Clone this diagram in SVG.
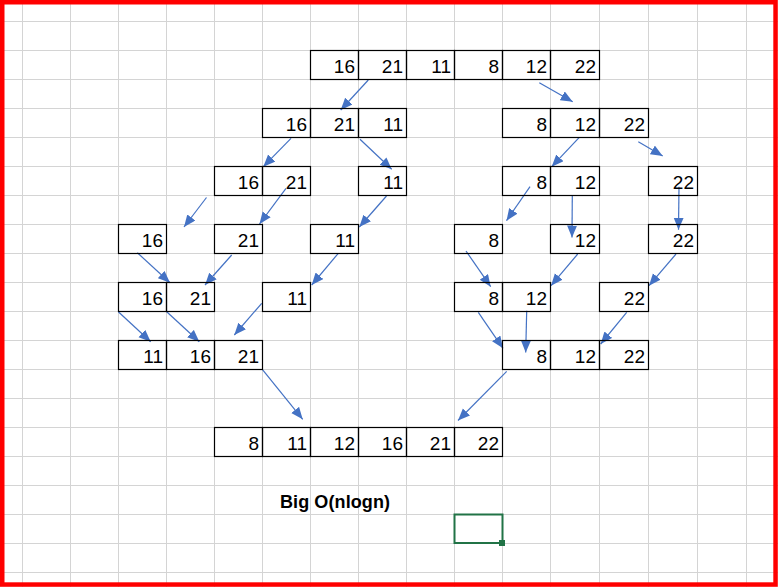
<svg xmlns="http://www.w3.org/2000/svg" width="778" height="587" viewBox="0 0 778 587">
<style>
.g{stroke:#d4d4d4;stroke-width:1}
.c{fill:none;stroke:#000;stroke-width:1.2}
.t{font-family:"Liberation Sans",Arial,sans-serif;font-size:19px;fill:#000;text-anchor:end}
.a{stroke:#4472C4;stroke-width:1.2;fill:none;marker-end:url(#ah)}
</style>
<defs>
<marker id="ah" markerUnits="userSpaceOnUse" markerWidth="13" markerHeight="11" refX="12" refY="5" orient="auto">
<path d="M0,0 L12,5 L0,10 z" fill="#4472C4"/>
</marker>
</defs>
<rect width="778" height="587" fill="#fff"/>
<g id="grid">
<path class="g" d="M22.5,0V587M70.5,0V587M118.5,0V587M166.5,0V587M214.5,0V587M262.5,0V587M310.5,0V587M358.5,0V587M406.5,0V587M454.5,0V587M502.5,0V587M550.5,0V587M599.5,0V587M648.5,0V587M697.5,0V587M746.5,0V587"/>
<path class="g" d="M0,21.5H778M0,50.5H778M0,79.5H778M0,108.5H778M0,137.5H778M0,166.5H778M0,195.5H778M0,224.5H778M0,253.5H778M0,282.5H778M0,311.5H778M0,340.5H778M0,369.5H778M0,398.5H778M0,427.5H778M0,456.5H778M0,485.5H778M0,514.5H778M0,543.5H778M0,572.5H778"/>
</g>
<g id="connectors">
<line class="a" x1="368.3" y1="80" x2="340.7" y2="110"/>
<line class="a" x1="539.3" y1="82.7" x2="572.7" y2="101.7"/>
<line class="a" x1="291" y1="138.3" x2="263.3" y2="166.7"/>
<line class="a" x1="360" y1="139.3" x2="391.7" y2="169.3"/>
<line class="a" x1="579.3" y1="137.3" x2="551.7" y2="166.7"/>
<line class="a" x1="638.3" y1="141.7" x2="662.7" y2="156"/>
<line class="a" x1="206.5" y1="197.5" x2="184" y2="227"/>
<line class="a" x1="286" y1="188.3" x2="259.5" y2="224"/>
<line class="a" x1="386.5" y1="196" x2="359.3" y2="227"/>
<line class="a" x1="530" y1="186.7" x2="506.5" y2="220.7"/>
<line class="a" x1="572.3" y1="195" x2="572" y2="237.5"/>
<line class="a" x1="679" y1="186.7" x2="678.5" y2="229.7"/>
<line class="a" x1="137.3" y1="252.7" x2="170" y2="282.7"/>
<line class="a" x1="231.7" y1="255" x2="205" y2="285"/>
<line class="a" x1="338.3" y1="253.3" x2="311.7" y2="285"/>
<line class="a" x1="466" y1="251" x2="490.7" y2="286.7"/>
<line class="a" x1="577.7" y1="254" x2="551" y2="285.7"/>
<line class="a" x1="676" y1="254" x2="649" y2="285.7"/>
<line class="a" x1="118.3" y1="311.7" x2="150.7" y2="341.7"/>
<line class="a" x1="166.7" y1="311.7" x2="199.3" y2="341.7"/>
<line class="a" x1="261.7" y1="303.3" x2="234.3" y2="335"/>
<line class="a" x1="478.3" y1="312.3" x2="503" y2="348.3"/>
<line class="a" x1="526.7" y1="310.7" x2="525.7" y2="352.5"/>
<line class="a" x1="626.7" y1="312.3" x2="600.7" y2="344"/>
<line class="a" x1="262.3" y1="369.3" x2="302.7" y2="419.3"/>
<line class="a" x1="506.7" y1="371.3" x2="458" y2="420.5"/>
</g>
<g id="n-top">
<rect class="c" x="310.5" y="50.5" width="48" height="29"/><rect class="c" x="358.5" y="50.5" width="48" height="29"/><rect class="c" x="406.5" y="50.5" width="48" height="29"/><rect class="c" x="454.5" y="50.5" width="48" height="29"/><rect class="c" x="502.5" y="50.5" width="48" height="29"/><rect class="c" x="550.5" y="50.5" width="49" height="29"/>
<text class="t" x="355" y="73.3">16</text><text class="t" x="403" y="73.3">21</text><text class="t" x="451" y="73.3">11</text><text class="t" x="499" y="73.3">8</text><text class="t" x="547" y="73.3">12</text><text class="t" x="596" y="73.3">22</text>
</g>
<g id="n-l1">
<rect class="c" x="262.5" y="108.5" width="48" height="29"/><rect class="c" x="310.5" y="108.5" width="48" height="29"/><rect class="c" x="358.5" y="108.5" width="48" height="29"/>
<text class="t" x="307" y="131.3">16</text><text class="t" x="355" y="131.3">21</text><text class="t" x="403" y="131.3">11</text>
</g>
<g id="n-r1">
<rect class="c" x="502.5" y="108.5" width="48" height="29"/><rect class="c" x="550.5" y="108.5" width="49" height="29"/><rect class="c" x="599.5" y="108.5" width="49" height="29"/>
<text class="t" x="547" y="131.3">8</text><text class="t" x="596" y="131.3">12</text><text class="t" x="645" y="131.3">22</text>
</g>
<g id="n-l2a">
<rect class="c" x="214.5" y="166.5" width="48" height="29"/><rect class="c" x="262.5" y="166.5" width="48" height="29"/>
<text class="t" x="259" y="189.3">16</text><text class="t" x="307" y="189.3">21</text>
</g>
<g id="n-l2b">
<rect class="c" x="358.5" y="166.5" width="48" height="29"/>
<text class="t" x="403" y="189.3">11</text>
</g>
<g id="n-r2a">
<rect class="c" x="502.5" y="166.5" width="48" height="29"/><rect class="c" x="550.5" y="166.5" width="49" height="29"/>
<text class="t" x="547" y="189.3">8</text><text class="t" x="596" y="189.3">12</text>
</g>
<g id="n-r2b">
<rect class="c" x="648.5" y="166.5" width="49" height="29"/>
<text class="t" x="694" y="189.3">22</text>
</g>
<g id="n-l3a"><rect class="c" x="118.5" y="224.5" width="48" height="29"/><text class="t" x="163" y="247.3">16</text></g>
<g id="n-l3b"><rect class="c" x="214.5" y="224.5" width="48" height="29"/><text class="t" x="259" y="247.3">21</text></g>
<g id="n-l3c"><rect class="c" x="310.5" y="224.5" width="48" height="29"/><text class="t" x="355" y="247.3">11</text></g>
<g id="n-r3a"><rect class="c" x="454.5" y="224.5" width="48" height="29"/><text class="t" x="499" y="247.3">8</text></g>
<g id="n-r3b"><rect class="c" x="550.5" y="224.5" width="49" height="29"/><text class="t" x="596" y="247.3">12</text></g>
<g id="n-r3c"><rect class="c" x="648.5" y="224.5" width="49" height="29"/><text class="t" x="694" y="247.3">22</text></g>
<g id="n-l4a">
<rect class="c" x="118.5" y="282.5" width="48" height="29"/><rect class="c" x="166.5" y="282.5" width="48" height="29"/>
<text class="t" x="163" y="305.3">16</text><text class="t" x="211" y="305.3">21</text>
</g>
<g id="n-l4b"><rect class="c" x="262.5" y="282.5" width="48" height="29"/><text class="t" x="307" y="305.3">11</text></g>
<g id="n-r4a">
<rect class="c" x="454.5" y="282.5" width="48" height="29"/><rect class="c" x="502.5" y="282.5" width="48" height="29"/>
<text class="t" x="499" y="305.3">8</text><text class="t" x="547" y="305.3">12</text>
</g>
<g id="n-r4b"><rect class="c" x="599.5" y="282.5" width="49" height="29"/><text class="t" x="645" y="305.3">22</text></g>
<g id="n-l5">
<rect class="c" x="118.5" y="340.5" width="48" height="29"/><rect class="c" x="166.5" y="340.5" width="48" height="29"/><rect class="c" x="214.5" y="340.5" width="48" height="29"/>
<text class="t" x="163" y="363.3">11</text><text class="t" x="211" y="363.3">16</text><text class="t" x="259" y="363.3">21</text>
</g>
<g id="n-r5">
<rect class="c" x="502.5" y="340.5" width="48" height="29"/><rect class="c" x="550.5" y="340.5" width="49" height="29"/><rect class="c" x="599.5" y="340.5" width="49" height="29"/>
<text class="t" x="547" y="363.3">8</text><text class="t" x="596" y="363.3">12</text><text class="t" x="645" y="363.3">22</text>
</g>
<g id="n-final">
<rect class="c" x="214.5" y="427.5" width="48" height="29"/><rect class="c" x="262.5" y="427.5" width="48" height="29"/><rect class="c" x="310.5" y="427.5" width="48" height="29"/><rect class="c" x="358.5" y="427.5" width="48" height="29"/><rect class="c" x="406.5" y="427.5" width="48" height="29"/><rect class="c" x="454.5" y="427.5" width="48" height="29"/>
<text class="t" x="259" y="450.3">8</text><text class="t" x="307" y="450.3">11</text><text class="t" x="355" y="450.3">12</text><text class="t" x="403" y="450.3">16</text><text class="t" x="451" y="450.3">21</text><text class="t" x="499" y="450.3">22</text>
</g>
<g id="label">
<text x="280" y="508" font-family="'Liberation Sans',Arial,sans-serif" font-size="18" font-weight="bold" fill="#000" textLength="110">Big O(nlogn)</text>
</g>
<g id="selected-cell">
<rect x="454.5" y="514.5" width="48" height="28.5" fill="none" stroke="#217346" stroke-width="2"/>
<rect x="499" y="540" width="6" height="6" fill="#217346"/>
</g>
<rect x="2.25" y="2.25" width="773.3" height="582.3" fill="none" stroke="#ff0000" stroke-width="4.5"/>
</svg>
